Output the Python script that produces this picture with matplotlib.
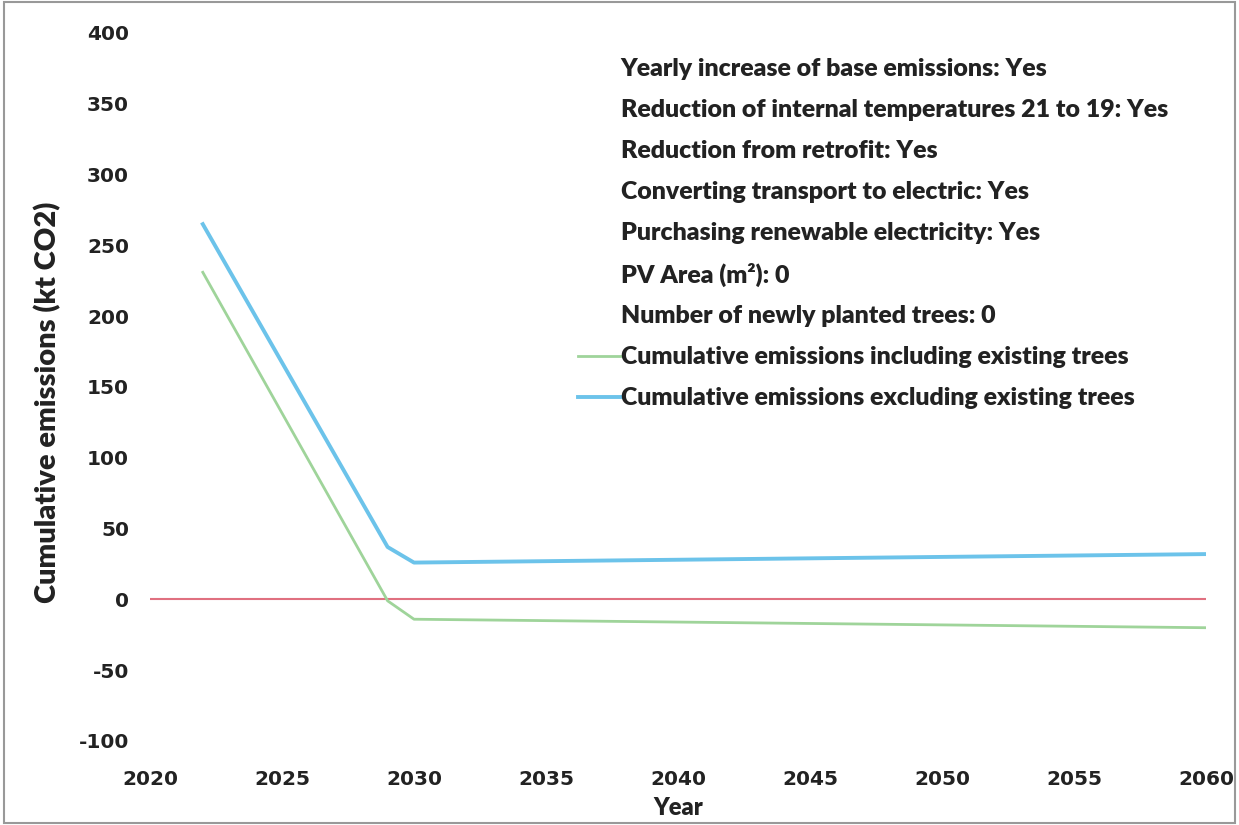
import matplotlib
matplotlib.use("Agg")
import matplotlib.pyplot as plt
from matplotlib.lines import Line2D
from matplotlib.patches import Rectangle

plt.rcParams["axes.unicode_minus"] = False

# Data
years = [2022, 2029, 2030, 2060]
incl_trees = [231, -1, -14, -20]
excl_trees = [265, 37, 26, 32]
zero_years = [2020, 2060]
zero_vals = [0, 0]

info_labels = [
    "Yearly increase of base emissions: Yes",
    "Reduction of internal temperatures 21 to 19: Yes",
    "Reduction from retrofit: Yes",
    "Converting transport to electric: Yes",
    "Purchasing renewable electricity: Yes",
    "PV Area (m²): 0",
    "Number of newly planted trees: 0",
]
series_labels = [
    "Cumulative emissions including existing trees",
    "Cumulative emissions excluding existing trees",
]
xticks = list(range(2020, 2061, 5))
yticks = list(range(-100, 401, 50))

fig = plt.figure(figsize=(12.39, 8.25), dpi=100)
ax = fig.add_axes([150/1239, 84/825, 1056/1239, 708/825])

green = "#9fd49a"
blue = "#6cc3ea"
red = "#e07080"
txt = "#222222"

ax.plot(zero_years, zero_vals, color=red, lw=1.5)
l1, = ax.plot(years, incl_trees, color=green, lw=2.0)
l2, = ax.plot(years, excl_trees, color=blue, lw=2.8)

ax.set_xlim(2020, 2060)
ax.set_ylim(-100, 400)
ax.set_xticks(xticks)
ax.set_yticks(yticks)
for s in ax.spines.values():
    s.set_visible(False)
ax.tick_params(length=0)
ax.tick_params(axis="y", pad=15)
ax.tick_params(axis="x", pad=21)
for lab in ax.get_xticklabels() + ax.get_yticklabels():
    lab.set_fontfamily("DejaVu Sans")
    lab.set_fontweight("bold")
    lab.set_fontsize(14.5)
    lab.set_color(txt)

fig.text(678/1239, 1 - 808/825, "Year", fontsize=17, fontweight="heavy", family="Lato",
         color=txt, ha="center", va="center")
fig.text(48/1239, 1 - 402/825, "Cumulative emissions (kt CO2)", fontsize=21, fontweight="heavy",
         family="Lato", color=txt, ha="center", va="center", rotation=90)

blank = [Line2D([], [], color="none") for _ in info_labels]
handles = blank + [l1, l2]
labels = info_labels + series_labels
leg = fig.legend(handles, labels, loc="upper left", bbox_to_anchor=(578/1239, 1 - 58/825),
                 bbox_transform=fig.transFigure, frameon=False,
                 handlelength=1.72, handletextpad=0.0, labelspacing=0.76,
                 borderpad=0, borderaxespad=0,
                 prop={"family": "Lato", "weight": "heavy", "size": 17.9})
for t in leg.get_texts():
    t.set_color(txt)

fig.patches.append(Rectangle((0.003, 0.003), 0.994, 0.994, transform=fig.transFigure,
                             fill=False, edgecolor="#999999", lw=1.5))

fig.savefig("out.png", dpi=100, facecolor="white")
